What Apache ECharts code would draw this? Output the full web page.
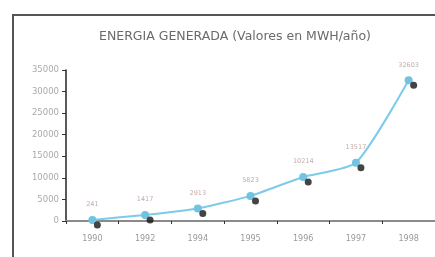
<!DOCTYPE html>
<html><head><meta charset="utf-8">
<script src="https://cdn.jsdelivr.net/npm/echarts@6/dist/echarts.min.js"></script>
<style>html,body{margin:0;padding:0;background:#fff}#c{width:435px;height:257px}</style>
</head><body><div id="c"></div>
<script>
var years = ['1990','1992','1994','1995','1996','1997','1998'];
var energy = [241, 1417, 2913, 5823, 10214, 13517, 32603];
var valueLabels = ['241','1417','2913','5823','10214','13517','32603'];
var yTicks = {min: 0, max: 35000, step: 5000};

var chart = echarts.init(document.getElementById('c'));
chart.setOption({
  animation: false,
  backgroundColor: '#fff',
  title: {
    text: 'ENERGIA GENERADA (Valores en MWH/año)',
    left: 230, top: 25, textAlign: 'center',
    textStyle: {fontFamily: 'DejaVu Sans', fontSize: 12.5, fontWeight: 'normal', color: '#6a6a6a'}
  },
  graphic: [{
    type: 'rect', shape: {x: 13, y: 15, width: 440, height: 260},
    style: {fill: 'none', stroke: '#555', lineWidth: 2}, silent: true
  }],
  grid: {left: 66, right: 0, top: 70, bottom: 36},
  xAxis: {
    type: 'category', data: years, boundaryGap: true,
    axisLine: {lineStyle: {color: '#8a8a8a', width: 2}},
    axisTick: {show: true, length: 3, lineStyle: {color: '#333'}},
    axisLabel: {color: '#999', fontSize: 8, margin: 14, fontFamily: 'DejaVu Sans'}
  },
  yAxis: {
    type: 'value', min: yTicks.min, max: yTicks.max, interval: yTicks.step,
    splitLine: {show: false},
    axisLine: {show: true, lineStyle: {color: '#222', width: 1.5}},
    axisTick: {show: true, length: 4, lineStyle: {color: '#333'}},
    axisLabel: {color: '#aaa', fontSize: 8.5, margin: 7, fontFamily: 'DejaVu Sans',
      formatter: function(v){ return String(v); }}
  },
  series: [{
    type: 'scatter', data: energy, symbol: 'circle', symbolSize: 7,
    symbolOffset: [5, 5], itemStyle: {color: '#151515'}, z: 3
  }, {
    type: 'line', data: energy, smooth: 0.2, symbol: 'circle', symbolSize: 8,
    lineStyle: {color: '#7ccbe8', width: 2},
    itemStyle: {color: '#72c2e0'}, z: 2,
    label: {show: true, position: 'top', distance: 8, fontSize: 6.5, color: '#c4aaaa',
      fontFamily: 'DejaVu Sans',
      formatter: function(p){ return valueLabels[p.dataIndex]; }}
  }]
});
</script></body></html>
